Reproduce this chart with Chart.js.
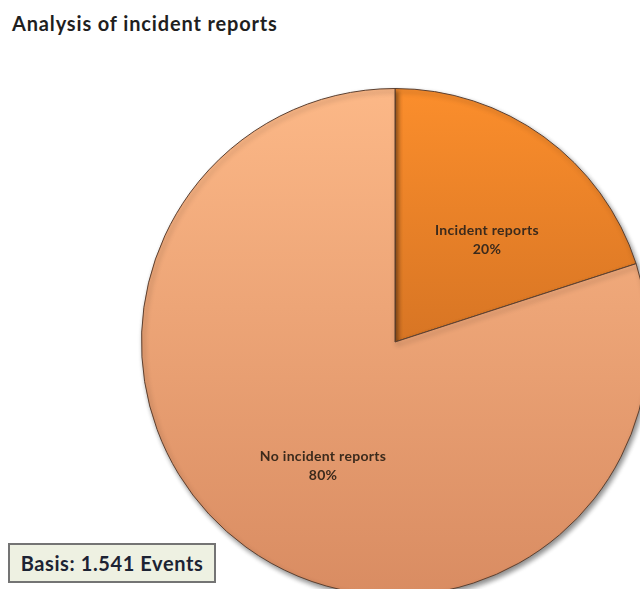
<!DOCTYPE html>
<html>
<head>
<meta charset="utf-8">
<script src="https://cdn.jsdelivr.net/npm/chart.js@4.4.0/dist/chart.umd.min.js"></script>
<style>
  html, body { margin: 0; padding: 0; background: #fff; overflow: hidden; width: 640px; height: 589px; }
  #title { position: absolute; left: 12px; top: 11px; font-family: Lato, "Open Sans", sans-serif; font-weight: bold; font-size: 20px; letter-spacing: 0.85px; color: #1f1f1f; }
  #wrap { position: absolute; left: 0; top: 0; width: 660px; height: 600px; }
  #basis { position: absolute; left: 8px; top: 543px; width: 208px; height: 40px; box-sizing: border-box;
           border: 2px solid #747474; background: #eef1e2; font-family: Lato, "Open Sans", sans-serif;
           font-weight: bold; font-size: 20px; letter-spacing: 0.6px; color: #1c2333; line-height: 36px; text-align: center; }
</style>
</head>
<body>
<div id="title">Analysis of incident reports</div>
<div id="wrap"><canvas id="pieChart" width="660" height="600"></canvas></div>
<div id="basis">Basis: 1.541 Events</div>
<script>
// Werte aus dem Bild
const categories = ['Incident reports', 'No incident reports'];
const shares = [20, 80];
const percentLabels = ['20%', '80%'];

// Farbverläufe (oben -> unten)
const gradientStops = [
    ['#fb8e2c', '#b45c1c'],
    ['#fcb887', '#d98c62']
];

function sliceGradient(context) {
    const chart = context.chart;
    const area = chart.chartArea;
    if (!area) return gradientStops[context.dataIndex][0];
    const g = chart.ctx.createLinearGradient(0, area.top, 0, area.bottom);
    g.addColorStop(0, gradientStops[context.dataIndex][0]);
    g.addColorStop(1, gradientStops[context.dataIndex][1]);
    return g;
}

// Schatten unter der Torte
const shadowPlugin = {
    id: 'pieShadow',
    beforeDatasetsDraw(chart) {
        const ctx = chart.ctx;
        ctx.save();
        ctx.shadowColor = 'rgba(0,0,0,0.45)';
        ctx.shadowBlur = 5;
        ctx.shadowOffsetX = 2;
        ctx.shadowOffsetY = 3;
    },
    afterDatasetsDraw(chart) {
        chart.ctx.restore();
    }
};

// Beschriftungen in den Segmenten
const sliceLabelPlugin = {
    id: 'sliceLabels',
    afterDatasetsDraw(chart) {
        const ctx = chart.ctx;
        const meta = chart.getDatasetMeta(0);
        ctx.save();
        ctx.font = 'bold 14px Lato, "Open Sans", sans-serif';
        ctx.letterSpacing = '0.3px';
        ctx.fillStyle = '#3b2a1c';
        ctx.textAlign = 'center';
        ctx.textBaseline = 'middle';
        meta.data.forEach((arc, i) => {
            const mid = (arc.startAngle + arc.endAngle) / 2;
            const r = arc.outerRadius * 0.55;
            const x = arc.x + Math.cos(mid) * r + 10;
            const y = arc.y + Math.sin(mid) * r;
            ctx.fillText(categories[i], x, y + 1.5);
            ctx.fillText(percentLabels[i], x, y + 20.5);
        });
        ctx.restore();
    }
};

new Chart(document.getElementById('pieChart').getContext('2d'), {
    type: 'pie',
    data: {
        labels: categories,
        datasets: [{
            data: shares,
            backgroundColor: sliceGradient,
            borderColor: '#5c4030',
            borderWidth: 1
        }]
    },
    options: {
        responsive: false,
        animation: false,
        layout: { padding: { left: 141, top: 88, right: 11, bottom: 4 } },
        plugins: {
            legend: { display: false },
            tooltip: { enabled: false },
            title: { display: false }
        }
    },
    plugins: [shadowPlugin, sliceLabelPlugin]
});
</script>
</body>
</html>
